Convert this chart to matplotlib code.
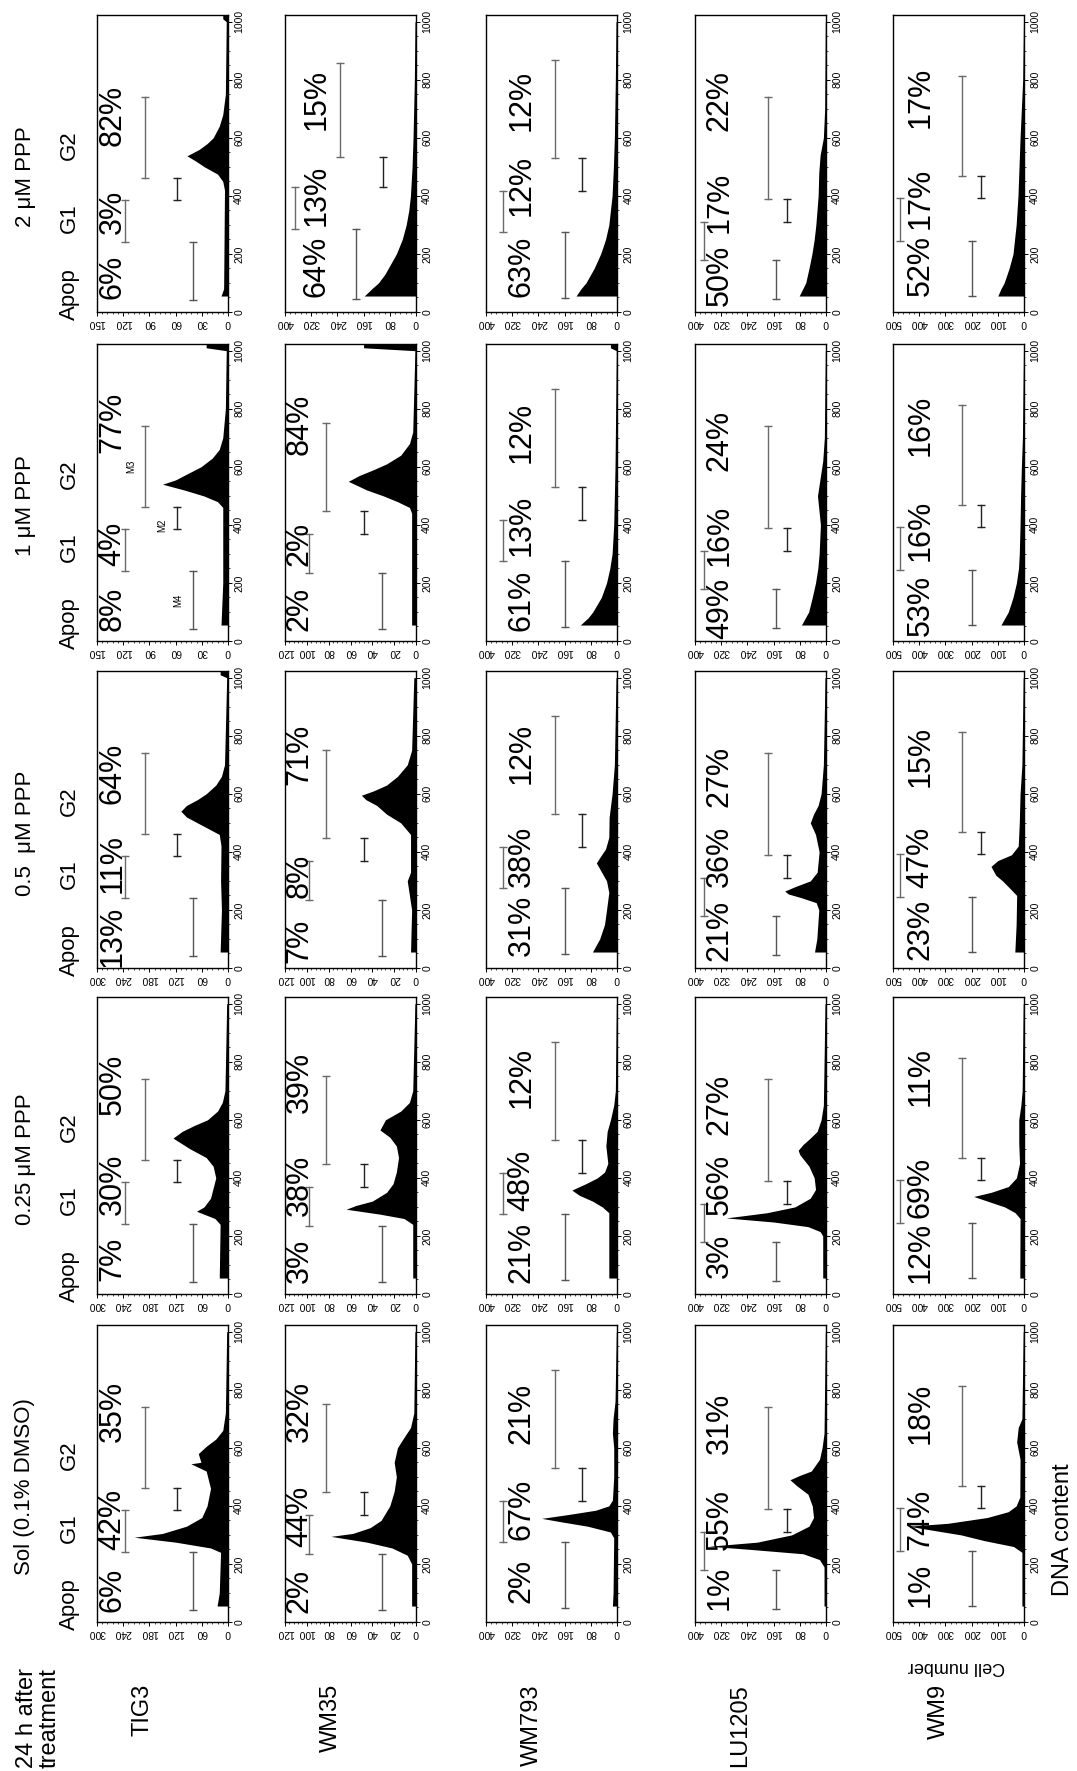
import matplotlib
matplotlib.use("Agg")
import matplotlib.pyplot as plt
from matplotlib.transforms import blended_transform_factory as blend
from matplotlib.ticker import MultipleLocator, AutoMinorLocator

plt.rcParams.update({
    "font.family": ["Liberation Sans", "DejaVu Sans"],
    "axes.linewidth": 1.0,
    "xtick.major.width": 0.7, "ytick.major.width": 0.7,
    "xtick.minor.width": 0.5, "ytick.minor.width": 0.5,
})

# ---------------------------------------------------------------- data
LINES = ["TIG3", "WM35", "WM793", "LU1205", "WM9"]
# panel rows, top to bottom
TREATMENTS = ["2 \u03bcM PPP", "1 \u03bcM PPP", "0.5  \u03bcM PPP",
              "0.25 \u03bcM PPP", "Sol (0.1% DMSO)"]

# Apop / G1 / G2 percentages, one tuple per treatment row
PCT_TIG3 = [(6, 3, 82), (8, 4, 77), (13, 11, 64), (7, 30, 50), (6, 42, 35)]
PCT_WM35 = [(64, 13, 15), (2, 2, 84), (7, 8, 71), (3, 38, 39), (2, 44, 32)]
PCT_WM793 = [(63, 12, 12), (61, 13, 12), (31, 38, 12), (21, 48, 12), (2, 67, 21)]
PCT_LU1205 = [(50, 17, 22), (49, 16, 24), (21, 36, 27), (3, 56, 27), (1, 55, 31)]
PCT_WM9 = [(52, 17, 17), (53, 16, 16), (23, 47, 15), (12, 69, 11), (1, 74, 18)]

# full scale of the cell-number axis and its tick step
YMAX_TIG3 = [150, 150, 300, 300, 300]
YMAX_WM35 = [400, 120, 120, 120, 120]
YMAX_WM793 = [400, 400, 400, 400, 400]
YMAX_LU1205 = [400, 400, 400, 400, 400]
YMAX_WM9 = [500, 500, 500, 500, 500]
STEP = {150: 30, 300: 60, 120: 20, 400: 80, 500: 100}

# marker gates (channel edges): Apop | G1 | M2 | G2
GATE_TIG3 = [(40, 240, 385, 460, 740)] * 5
GATE_WM35 = [(45, 286, 431, 534, 858)] + [(40, 235, 368, 448, 752)] * 4
GATE_WM793 = [(48, 275, 417, 530, 868)] * 5
GATE_LU1205 = [(45, 180, 310, 390, 740)] * 5
GATE_WM9 = [(55, 244, 391, 467, 812)] * 5

# DNA channel at which each percentage label starts (Apop, G1, G2)
LBL_TIG3 = [(44, 268, 571), (35, 258, 647), (5, 257, 566), (44, 273, 617), (35, 247, 619)]
LBL_WM35 = [(50, 296, 628), (35, 258, 642), (17, 240, 629), (39, 268, 622), (30, 259, 619)]
LBL_WM793 = [(50, 331, 622), (35, 293, 613), (40, 280, 634), (39, 285, 640), (64, 281, 613)]
LBL_LU1205 = [(21, 273, 622), (7, 258, 585), (23, 280, 555), (56, 273, 548), (41, 247, 579)]
LBL_WM9 = [(56, 285, 634), (18, 276, 636), (28, 274, 623), (39, 262, 646), (52, 247, 613)]

# DNA histograms: (channel, cell number) knots, one list per treatment row
HIST_TIG3 = [
    [(55, 8), (80, 5), (420, 4), (450, 6), (475, 12), (500, 27), (520, 37), (538, 47),
     (560, 33), (580, 24), (600, 17), (640, 10), (680, 6), (750, 3), (1000, 2), (1010, 6), (1023, 6)],
    [(55, 8), (200, 6), (460, 6), (480, 12), (500, 28), (520, 50), (540, 75), (555, 60),
     (580, 44), (600, 31), (630, 18), (660, 10), (700, 6), (800, 3), (1000, 2), (1010, 25), (1023, 25)],
    [(55, 18), (200, 15), (300, 17), (420, 16), (460, 20), (480, 45), (500, 70), (520, 95),
     (540, 108), (560, 95), (580, 70), (600, 50), (630, 28), (660, 15), (700, 8), (1000, 3),
     (1010, 18), (1023, 18)],
    [(55, 20), (240, 18), (260, 30), (285, 72), (300, 55), (330, 40), (400, 28), (440, 34),
     (470, 50), (500, 87), (537, 126), (560, 105), (580, 78), (600, 47), (630, 24), (660, 13),
     (700, 7), (1000, 3)],
    [(55, 25), (100, 20), (240, 17), (255, 40), (275, 120), (292, 215), (305, 150), (330, 95),
     (360, 60), (400, 48), (460, 40), (520, 50), (545, 85), (550, 62), (580, 68), (605, 50),
     (630, 28), (660, 12), (720, 6), (1000, 3)],
]
HIST_WM35 = [
    [(55, 158), (80, 135), (100, 115), (130, 95), (160, 80), (200, 60), (250, 42), (300, 30),
     (350, 22), (400, 17), (500, 12), (600, 9), (800, 5), (1000, 3)],
    [(55, 4), (440, 4), (460, 6), (480, 17), (500, 30), (520, 45), (550, 62), (570, 52),
     (590, 39), (610, 27), (640, 14), (680, 6), (720, 3), (1000, 1), (1010, 48), (1023, 48)],
    [(55, 5), (200, 4), (300, 8), (330, 5), (460, 5), (500, 14), (530, 27), (560, 36),
     (580, 46), (595, 50), (610, 39), (630, 27), (660, 17), (700, 8), (750, 4), (1000, 2)],
    [(55, 3), (240, 3), (260, 11), (275, 33), (292, 64), (305, 55), (320, 40), (350, 27),
     (380, 21), (420, 18), (470, 16), (510, 18), (540, 24), (565, 33), (600, 28), (630, 14),
     (660, 6), (700, 3), (1000, 1)],
    [(55, 4), (200, 4), (230, 8), (255, 22), (275, 45), (295, 78), (305, 58), (325, 42),
     (350, 32), (400, 24), (450, 20), (500, 18), (550, 20), (600, 17), (630, 12), (670, 5),
     (720, 2), (1000, 1)],
]
HIST_WM793 = [
    [(55, 125), (80, 110), (100, 95), (150, 70), (200, 50), (250, 35), (300, 25), (400, 15),
     (500, 11), (600, 8), (800, 5), (1000, 3)],
    [(55, 112), (80, 88), (100, 74), (150, 48), (200, 32), (250, 22), (300, 15), (400, 10),
     (500, 8), (600, 6), (1000, 2), (1010, 20), (1023, 20)],
    [(55, 75), (100, 53), (150, 38), (200, 32), (260, 25), (300, 32), (340, 52), (362, 63),
     (385, 50), (410, 35), (450, 25), (520, 24), (600, 15), (700, 8), (1000, 3)],
    [(55, 25), (280, 25), (300, 45), (320, 75), (340, 115), (358, 138), (380, 95), (400, 60),
     (420, 38), (450, 28), (510, 34), (560, 30), (600, 20), (650, 10), (700, 5), (1000, 2)],
    [(55, 14), (100, 12), (290, 10), (310, 20), (330, 90), (345, 170), (357, 230), (370, 150),
     (385, 65), (400, 25), (420, 14), (500, 10), (600, 10), (650, 14), (700, 12), (760, 6),
     (1000, 2)],
]
HIST_LU1205 = [
    [(55, 82), (100, 62), (150, 52), (200, 43), (250, 36), (300, 31), (400, 24), (480, 22),
     (540, 18), (600, 8), (700, 4), (1000, 2)],
    [(55, 75), (100, 53), (150, 42), (200, 32), (250, 25), (300, 21), (400, 17), (500, 26),
     (560, 18), (620, 10), (700, 5), (1000, 2)],
    [(55, 35), (100, 28), (200, 22), (225, 30), (242, 75), (255, 115), (265, 126), (280, 95),
     (300, 48), (330, 27), (400, 21), (460, 32), (500, 48), (530, 38), (560, 24), (600, 15),
     (700, 8), (1000, 3)],
    [(55, 10), (200, 10), (215, 18), (232, 55), (248, 160), (262, 305), (280, 180), (300, 95),
     (330, 48), (360, 32), (400, 36), (440, 52), (480, 80), (495, 85), (515, 70), (535, 50),
     (560, 27), (600, 15), (650, 8), (1000, 3)],
    [(55, 6), (190, 6), (215, 20), (235, 70), (250, 230), (261, 357), (275, 210), (300, 105),
     (330, 52), (360, 38), (400, 42), (440, 55), (470, 90), (490, 110), (505, 80), (520, 45),
     (560, 20), (600, 12), (650, 6), (1000, 2)],
]
HIST_WM9 = [
    [(55, 100), (80, 88), (100, 76), (150, 57), (200, 42), (300, 30), (400, 23), (500, 19),
     (600, 15), (700, 10), (800, 5), (1000, 2)],
    [(55, 88), (100, 60), (150, 42), (200, 29), (250, 21), (300, 18), (400, 15), (500, 13),
     (600, 10), (700, 6), (1000, 2)],
    [(55, 35), (150, 30), (250, 28), (280, 60), (300, 82), (320, 108), (350, 126), (370, 100),
     (390, 48), (420, 22), (500, 18), (600, 15), (700, 8), (1000, 3)],
    [(55, 16), (260, 15), (280, 34), (300, 74), (320, 140), (336, 192), (350, 126), (370, 60),
     (400, 29), (450, 17), (520, 20), (600, 20), (650, 12), (700, 7), (1000, 3)],
    [(55, 8), (240, 8), (260, 40), (280, 150), (300, 240), (320, 375), (330, 440), (340, 290),
     (360, 140), (380, 60), (400, 30), (430, 16), (560, 15), (620, 28), (670, 22), (700, 8),
     (1000, 3)],
]

PCT = [PCT_TIG3, PCT_WM35, PCT_WM793, PCT_LU1205, PCT_WM9]
YMAX = [YMAX_TIG3, YMAX_WM35, YMAX_WM793, YMAX_LU1205, YMAX_WM9]
GATE = [GATE_TIG3, GATE_WM35, GATE_WM793, GATE_LU1205, GATE_WM9]
LBL = [LBL_TIG3, LBL_WM35, LBL_WM793, LBL_LU1205, LBL_WM9]
HIST = [HIST_TIG3, HIST_WM35, HIST_WM793, HIST_LU1205, HIST_WM9]

# ---------------------------------------------------------------- layout (pixels)
W, H = 1077, 1771
COL_X = [97, 285, 486, 695, 893]
ROW_Y = [15, 344, 671, 997, 1325]
PW, PH = 131, 297
DNA_TOP = 1023

# gate bar positions, measured from the right (zero) edge as a fraction of width
BAR_X = {"TIG3": (0.27, 0.79, 0.39, 0.63), "WM35": (0.26, 0.82, 0.40, 0.69),
         "WM35_hi": (0.46, 0.92, 0.25, 0.58), "WM793": (0.40, 0.87, 0.27, 0.47),
         "LU1205": (0.38, 0.93, 0.30, 0.44), "WM9": (0.40, 0.95, 0.33, 0.47)}
BAR_C = ("#555555", "#6a6a6a", "#222222", "#6a6a6a")
LBL_X = {"TIG3": 0.12, "WM35": 0.11, "WM35_hi": 0.24, "WM793": 0.27,
         "LU1205": 0.19, "WM9": 0.21}

fig = plt.figure(figsize=(W / 100, H / 100), dpi=100)


def fx(px):
    return px / W


def fy(py):
    return 1 - py / H


axes = {}
for r in range(5):
    for c, name in enumerate(LINES):
        x0, y0 = COL_X[c], ROW_Y[r]
        ax = fig.add_axes([fx(x0), fy(y0 + PH), PW / W, PH / H])
        axes[r, c] = ax
        ymax = YMAX[c][r]

        ch, n = zip(*HIST[c][r])
        ax.fill_betweenx(ch, n, 0, color="black", lw=0)
        ax.set_xlim(ymax, 0)
        ax.set_ylim(0, DNA_TOP)

        ax.xaxis.set_major_locator(MultipleLocator(STEP[ymax]))
        ax.xaxis.set_minor_locator(AutoMinorLocator(5))
        ax.yaxis.set_major_locator(MultipleLocator(200))
        ax.yaxis.set_minor_locator(AutoMinorLocator(4))
        ax.yaxis.tick_right()
        ax.tick_params(axis="x", which="major", labelrotation=180, labelsize=7.5,
                       length=3, pad=1.5)
        ax.tick_params(axis="x", which="minor", length=1.5)
        ax.tick_params(axis="y", which="major", labelrotation=90, labelsize=7.5,
                       length=3, pad=1.5)
        ax.tick_params(axis="y", which="minor", length=1.5)
        for t in ax.get_yticklabels():
            t.set_verticalalignment("center")

        tr = blend(ax.transAxes, ax.transData)
        key = "WM35_hi" if (name == "WM35" and r == 0) else name

        # marker gates
        g = GATE[c][r]
        for k in range(4):
            xb = 1 - BAR_X[key][k]
            ax.plot([xb, xb], [g[k], g[k + 1]], color=BAR_C[k], lw=1.0,
                    marker="_", ms=6, mew=1.0, transform=tr, clip_on=False)
        if name == "TIG3" and r == 1:
            for k, m in zip((0, 2, 3), ("M4", "M2", "M3")):
                xb = 1 - BAR_X[key][k] - 0.11
                ax.text(xb, (g[k] + g[k + 1]) / 2 if k != 2 else g[k] + 15, m,
                        rotation=90, ha="center", va="center", fontsize=7,
                        transform=tr)

        # phase percentages
        for v, ys in zip(PCT[c][r], LBL[c][r]):
            ax.text(LBL_X[key], ys, f"{v}%", rotation=90, ha="center", va="bottom",
                    fontsize=22, transform=tr)

# treatment headings to the left of each row
for r, label in enumerate(TREATMENTS):
    ax = axes[r, 0]
    tr = blend(fig.transFigure, ax.transData)
    ax.text(fx(25), 465, label, rotation=90, ha="center", va="center",
            fontsize=16, transform=tr)
    ax.text(fx(69), -28, "Apop", rotation=90, ha="center", va="bottom",
            fontsize=16, transform=tr)
    ax.text(fx(69), 322, "G1", rotation=90, ha="center", va="center",
            fontsize=16, transform=tr)
    ax.text(fx(69), 575, "G2", rotation=90, ha="center", va="center",
            fontsize=16, transform=tr)

# cell line names along the bottom
for c, name in enumerate(LINES):
    fig.text(fx(COL_X[c] + PW / 2 - 20), fy(1684), name, rotation=90,
             ha="center", va="top", fontsize=17)

fig.text(fx(38), fy(1668), "24 h after\ntreatment", rotation=90, ha="center",
         va="top", fontsize=17, linespacing=1.05)
fig.text(fx(956), fy(1666), "Cell number", rotation=180, ha="center",
         va="center", fontsize=13)
fig.text(fx(1063), fy(1530), "DNA content", rotation=90, ha="center",
         va="center", fontsize=17)

fig.savefig("out.png", dpi=100, facecolor="white")
